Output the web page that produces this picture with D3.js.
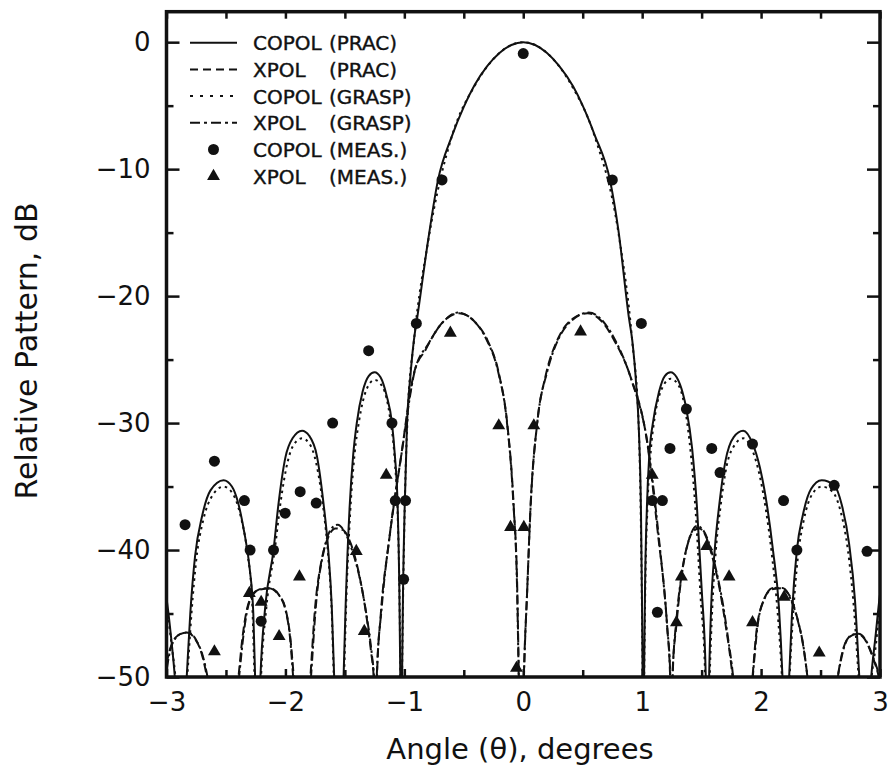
<!DOCTYPE html>
<html>
<head>
<meta charset="utf-8">
<script src="https://cdn.jsdelivr.net/npm/d3@7"></script>
<style>
    body { margin: 0; background: #fff; }
    svg text { font-family: "DejaVu Sans", sans-serif; fill: #111; }
</style>
</head>
<body>
<div id="chart"></div>
<script>
// ---- data: [angle (deg), relative pattern (dB)] ----
// points below -50 dB sit in the nulls and get clipped by the frame

var copolPrac = [
    [-3.05,-41.8],[-3.0,-43.8],[-2.96,-47],[-2.93,-50],[-2.88,-58],
    [-2.83,-50],[-2.80,-45],[-2.76,-40.5],[-2.70,-37.3],[-2.63,-35.3],[-2.52,-34.5],[-2.45,-35.0],[-2.40,-36.2],[-2.35,-38.4],[-2.30,-41.5],[-2.27,-45],[-2.255,-50],[-2.235,-58],
    [-2.21,-50],[-2.17,-44.5],[-2.10,-40],[-2.06,-36.5],[-2.0,-32.7],[-1.94,-31.2],[-1.86,-30.6],[-1.80,-31.0],[-1.735,-32.6],[-1.68,-36.3],[-1.64,-40],[-1.61,-44.5],[-1.59,-50],[-1.55,-58],
    [-1.511,-50],[-1.494,-44.5],[-1.46,-36.6],[-1.43,-32.5],[-1.40,-30.0],[-1.35,-27.5],[-1.30,-26.3],[-1.25,-26.0],[-1.20,-26.4],[-1.15,-27.8],[-1.104,-30],[-1.08,-32.5],[-1.056,-36.6],[-1.042,-43],[-1.034,-50],[-1.027,-58],
    [-1.019,-50],[-1.011,-43.2],[-0.997,-36.6],[-0.977,-30],[-0.95,-26.4],[-0.92,-23.5],[-0.89,-21.6],[-0.80,-15.6],[-0.72,-11.0],[-0.60,-7.4],[-0.50,-5.1],[-0.41,-3.4],[-0.30,-1.85],[-0.20,-0.85],[-0.10,-0.22],[0,0],
    [0.10,-0.22],[0.20,-0.85],[0.30,-1.85],[0.42,-3.5],[0.50,-5.0],[0.60,-7.3],[0.73,-10.9],[0.80,-14.8],[0.89,-21.8],[0.917,-23.5],[0.95,-27.0],[0.972,-30.5],[0.99,-37],[0.998,-43.5],[1.004,-50],[1.01,-58],
    [1.016,-50],[1.024,-43],[1.04,-36.6],[1.06,-32.5],[1.09,-30.0],[1.14,-27.6],[1.19,-26.3],[1.24,-26.0],[1.29,-26.4],[1.34,-27.6],[1.372,-28.9],[1.42,-32.0],[1.46,-36.5],[1.50,-43],[1.535,-50],[1.549,-58],
    [1.563,-50],[1.58,-44.5],[1.61,-40],[1.65,-36.3],[1.70,-33.0],[1.77,-31.1],[1.85,-30.6],[1.928,-31.6],[1.99,-33.5],[2.05,-36.5],[2.10,-40],[2.15,-44.5],[2.18,-50],[2.208,-58],
    [2.236,-50],[2.26,-45],[2.301,-40],[2.35,-37.3],[2.42,-35.2],[2.51,-34.5],[2.615,-34.9],[2.68,-36.5],[2.74,-39.5],[2.79,-44],[2.826,-50],[2.876,-58],
    [2.926,-50],[2.96,-47],[3.0,-43.5],[3.05,-41]
];

var copolGrasp = [
    [-3.05,-42.5],[-3.0,-44.5],[-2.95,-48],[-2.925,-50],[-2.88,-58],
    [-2.825,-50],[-2.79,-45],[-2.75,-40.8],[-2.69,-37.6],[-2.62,-35.8],[-2.52,-35.0],[-2.44,-35.6],[-2.38,-37.2],[-2.32,-40.2],[-2.28,-44],[-2.26,-50],[-2.235,-58],
    [-2.205,-50],[-2.16,-44.5],[-2.09,-40],[-2.04,-36.2],[-1.98,-33],[-1.93,-31.7],[-1.86,-31.2],[-1.80,-31.6],[-1.74,-33.2],[-1.68,-36.8],[-1.64,-40.5],[-1.61,-45],[-1.593,-50],[-1.55,-58],
    [-1.507,-50],[-1.49,-44.5],[-1.455,-37],[-1.42,-32.6],[-1.38,-29.8],[-1.32,-27.4],[-1.25,-26.6],[-1.18,-27.2],[-1.12,-29.6],[-1.08,-33],[-1.055,-37.5],[-1.04,-44],[-1.033,-50],[-1.027,-58],
    [-1.019,-50],[-0.997,-36.8],[-0.97,-29],[-0.92,-23.6],[-0.8,-15.7],[-0.6,-7.4],[-0.4,-3.3],[-0.2,-0.85],[0,0],[0.2,-0.85],[0.4,-3.3],[0.6,-7.4],[0.8,-15.0],[0.917,-23.6],[0.97,-30],[0.997,-43.5],[1.004,-50],[1.01,-58],
    [1.017,-50],[1.026,-43],[1.045,-36.5],[1.07,-32.5],[1.11,-29.3],[1.17,-27.2],[1.24,-26.5],[1.31,-27.1],[1.37,-29.4],[1.41,-32.5],[1.45,-37],[1.49,-43.5],[1.53,-50],[1.549,-58],
    [1.568,-50],[1.59,-44.5],[1.62,-40],[1.66,-36.5],[1.71,-33.4],[1.78,-31.7],[1.85,-31.2],[1.92,-32],[1.98,-33.8],[2.04,-36.8],[2.09,-40.3],[2.14,-45],[2.175,-50],[2.208,-58],
    [2.24,-50],[2.27,-45],[2.31,-40.5],[2.36,-37.6],[2.43,-35.6],[2.51,-35.0],[2.60,-35.4],[2.67,-37],[2.73,-40],[2.78,-44.5],[2.82,-50],[2.876,-58],
    [2.93,-50],[2.965,-47.5],[3.0,-44.3],[3.05,-42]
];

var xpolPrac = [
    [-3.05,-52],[-3.02,-50],[-2.97,-47.8],[-2.90,-46.7],[-2.83,-46.5],[-2.76,-47.0],[-2.70,-48.3],[-2.66,-50],[-2.53,-60],
    [-2.395,-50],[-2.36,-46.8],[-2.31,-44.2],[-2.24,-43.2],[-2.13,-43.0],[-2.05,-43.6],[-2.0,-44.6],[-1.96,-46.8],[-1.93,-50],[-1.86,-60],
    [-1.79,-50],[-1.75,-44.5],[-1.70,-41.0],[-1.64,-39.0],[-1.58,-38.3],[-1.52,-38.4],[-1.45,-39.5],[-1.39,-41.5],[-1.33,-44.5],[-1.28,-48],[-1.258,-50],[-1.245,-56],
    [-1.23,-50],[-1.20,-45.3],[-1.13,-39.4],[-1.03,-32.8],[-0.92,-26.1],[-0.82,-24.2],[-0.70,-22.3],[-0.54,-21.35],[-0.40,-22.1],[-0.30,-23.5],[-0.20,-26.3],[-0.135,-30],[-0.08,-36.6],[-0.05,-43.2],[-0.037,-50],[-0.016,-60],
    [0.005,-50],[0.033,-43.2],[0.061,-36.6],[0.117,-30],[0.19,-26.2],[0.29,-23.4],[0.40,-21.9],[0.54,-21.35],[0.68,-22.2],[0.76,-23.4],[0.90,-26.3],[1.04,-31.4],[1.13,-38.5],[1.21,-46],[1.235,-50],[1.245,-56],
    [1.254,-50],[1.29,-45.7],[1.33,-42.1],[1.38,-39.6],[1.43,-38.5],[1.48,-38.3],[1.53,-38.8],[1.58,-40.2],[1.65,-43],[1.70,-45.8],[1.76,-50],[1.84,-60],
    [1.928,-50],[1.96,-46.5],[2.02,-44.0],[2.09,-43.1],[2.17,-43.0],[2.24,-43.6],[2.30,-45.2],[2.35,-47.3],[2.391,-50],[2.52,-60],
    [2.644,-50],[2.69,-47.8],[2.75,-46.8],[2.81,-46.6],[2.87,-47.0],[2.93,-48.2],[2.99,-50],[3.05,-53]
];

var xpolGrasp = [
    [-3.05,-52],[-3.01,-50],[-2.96,-47.6],[-2.88,-46.6],[-2.82,-46.5],[-2.75,-47.1],[-2.69,-48.5],[-2.655,-50],[-2.53,-60],
    [-2.39,-50],[-2.35,-46.5],[-2.30,-44.0],[-2.22,-43.1],[-2.14,-43.0],[-2.06,-43.5],[-2.0,-44.7],[-1.96,-47],[-1.935,-50],[-1.86,-60],
    [-1.785,-50],[-1.74,-44],[-1.68,-40.2],[-1.62,-38.4],[-1.56,-38.0],[-1.50,-38.6],[-1.44,-40.0],[-1.38,-42],[-1.32,-45],[-1.27,-48.5],[-1.255,-50],[-1.245,-56],
    [-1.232,-50],[-1.19,-44.5],[-1.12,-38.6],[-1.02,-32.2],[-0.91,-25.8],[-0.80,-23.8],[-0.68,-22.1],[-0.55,-21.3],[-0.41,-22.0],[-0.31,-23.4],[-0.21,-26.0],[-0.14,-29.7],[-0.085,-36],[-0.052,-43],[-0.038,-50],[-0.016,-60],
    [0.006,-50],[0.034,-43],[0.064,-36.2],[0.12,-29.8],[0.20,-26],[0.30,-23.3],[0.41,-21.9],[0.55,-21.3],[0.69,-22.2],[0.78,-23.6],[0.91,-26.6],[1.05,-31.9],[1.14,-39],[1.21,-46],[1.237,-50],[1.245,-56],
    [1.256,-50],[1.29,-45.3],[1.34,-41.5],[1.40,-39.0],[1.46,-38.1],[1.51,-38.4],[1.56,-39.4],[1.62,-41.5],[1.68,-44.3],[1.72,-46.8],[1.765,-50],[1.84,-60],
    [1.93,-50],[1.97,-46],[2.03,-43.8],[2.10,-43.0],[2.18,-43.0],[2.25,-43.9],[2.31,-45.6],[2.36,-47.8],[2.39,-50],[2.52,-60],
    [2.645,-50],[2.70,-47.6],[2.76,-46.7],[2.82,-46.6],[2.88,-47.1],[2.94,-48.4],[2.995,-50],[3.05,-53]
];

var copolMeas = [
    [0.0,-0.9],[-0.683,-10.85],[0.749,-10.85],[-0.899,-22.15],[0.993,-22.15],[-1.30,-24.3],
    [-1.603,-30.0],[-1.104,-30.0],[-2.597,-33.0],[-2.345,-36.1],[-1.876,-35.4],[-1.741,-36.3],
    [-2.002,-37.1],[-2.844,-38.0],[-2.297,-40.0],[-2.10,-40.0],[-2.204,-45.6],[-1.076,-36.1],
    [-0.99,-36.1],[-1.006,-42.3],[1.372,-28.9],[1.234,-32.0],[1.585,-32.0],[1.928,-31.65],
    [1.655,-33.9],[1.086,-36.1],[1.170,-36.1],[2.189,-36.1],[2.615,-34.9],[2.301,-40.0],
    [2.891,-40.1],[1.128,-44.9]
];

var xpolMeas = [
    [-0.613,-22.9],[0.482,-22.8],[-0.206,-30.2],[0.089,-30.2],[-0.107,-38.2],[0.005,-38.2],
    [-0.057,-49.3],[-1.152,-34.1],[1.085,-34.1],[-2.303,-43.4],[-2.204,-44.1],[-1.882,-42.1],
    [-1.404,-40.1],[-2.053,-46.8],[-2.597,-48.0],[-1.337,-46.4],[1.330,-42.1],[1.731,-42.1],
    [1.288,-45.7],[1.928,-45.7],[2.489,-48.1],[1.543,-39.7],[2.194,-43.7]
];

var xMajorTicks = [-3, -2, -1, 0, 1, 2, 3];
var xMinorTicks = [-2.5, -1.5, -0.5, 0.5, 1.5, 2.5];
var yMajorTicks = [-50, -40, -30, -20, -10, 0];
var yMinorTicks = [-45, -35, -25, -15, -5];

var legendNames = ["COPOL", "XPOL", "COPOL", "XPOL", "COPOL", "XPOL"];
var legendSources = ["(PRAC)", "(PRAC)", "(GRASP)", "(GRASP)", "(MEAS.)", "(MEAS.)"];


function drawChart() {
    let div_id = "#chart";
    let win_width = 891;
    let win_height = 771;

    // frame of the plot
    let margin = {top: 11.7, right: 11, bottom: 94, left: 166.5};
    let width = win_width - margin.left - margin.right;
    let height = win_height - margin.top - margin.bottom;
    let ink = "#111";

    let svg = d3.select(div_id)
        .append("svg")
        .attr("width", win_width)
        .attr("height", win_height);

    let g = svg.append("g")
        .attr("transform", "translate(" + margin.left + "," + margin.top + ")");

    let x = d3.scaleLinear().domain([-3, 3]).range([0, width]);
    let y = d3.scaleLinear().domain([-50, 2.4]).range([height, 0]);
    let fmt = d3.format("d");

    svg.append("defs").append("clipPath").attr("id", "plotclip")
        .append("rect").attr("width", width).attr("height", height);

    // axes, ticks pointing inwards
    let styleAxis = function(sel) {
        sel.select(".domain").remove();
        sel.selectAll("line").attr("stroke", ink).attr("stroke-width", 2.5);
        sel.selectAll("text")
            .attr("font-family", "DejaVu Sans, sans-serif")
            .attr("font-size", 26)
            .attr("fill", ink);
    };

    g.append("g").attr("transform", "translate(0," + height + ")")
        .call(d3.axisBottom(x).tickValues(xMajorTicks).tickFormat(fmt).tickSizeInner(-8).tickSizeOuter(0).tickPadding(16))
        .call(styleAxis);
    g.append("g").attr("transform", "translate(0," + height + ")")
        .call(d3.axisBottom(x).tickValues(xMinorTicks).tickFormat("").tickSizeInner(-7).tickSizeOuter(0))
        .call(styleAxis);
    g.append("g")
        .call(d3.axisTop(x).tickValues(xMajorTicks.concat(xMinorTicks)).tickFormat("").tickSizeInner(-7).tickSizeOuter(0))
        .call(styleAxis);

    g.append("g")
        .call(d3.axisLeft(y).tickValues(yMajorTicks).tickFormat(fmt).tickSizeInner(-13).tickSizeOuter(0).tickPadding(16))
        .call(styleAxis);
    g.append("g")
        .call(d3.axisLeft(y).tickValues(yMinorTicks).tickFormat("").tickSizeInner(-7).tickSizeOuter(0))
        .call(styleAxis);
    g.append("g").attr("transform", "translate(" + width + ",0)")
        .call(d3.axisRight(y).tickValues(yMajorTicks).tickFormat("").tickSizeInner(-13).tickSizeOuter(0))
        .call(styleAxis);
    g.append("g").attr("transform", "translate(" + width + ",0)")
        .call(d3.axisRight(y).tickValues(yMinorTicks).tickFormat("").tickSizeInner(-7).tickSizeOuter(0))
        .call(styleAxis);

    // curves
    let line = d3.line()
        .x(function(d) { return x(d[0]); })
        .y(function(d) { return y(d[1]); })
        .curve(d3.curveMonotoneX);

    let series = [
        {data: copolPrac, dash: null},
        {data: xpolPrac, dash: "9,4"},
        {data: copolGrasp, dash: "2.5,4"},
        {data: xpolGrasp, dash: "9,3,2.5,3"}
    ];

    let curves = g.append("g").attr("clip-path", "url(#plotclip)");
    curves.selectAll("path")
        .data(series)
        .join("path")
        .attr("fill", "none")
        .attr("stroke", ink)
        .attr("stroke-width", 2)
        .attr("stroke-dasharray", function(d) { return d.dash; })
        .attr("d", function(d) { return line(d.data); });

    // measured points
    g.append("g")
        .selectAll("circle")
        .data(copolMeas)
        .join("circle")
        .attr("cx", function(d) { return x(d[0]); })
        .attr("cy", function(d) { return y(d[1]); })
        .attr("r", 5.5)
        .attr("fill", ink);

    let tri = d3.symbol(d3.symbolTriangle, 72);
    g.append("g")
        .selectAll("path")
        .data(xpolMeas)
        .join("path")
        .attr("transform", function(d) { return "translate(" + x(d[0]) + "," + y(d[1]) + ")"; })
        .attr("d", tri)
        .attr("fill", ink);

    // frame
    g.append("rect")
        .attr("width", width)
        .attr("height", height)
        .attr("fill", "none")
        .attr("stroke", ink)
        .attr("stroke-width", 3.5);

    // axis titles
    svg.append("text")
        .attr("x", 520)
        .attr("y", 759)
        .attr("text-anchor", "middle")
        .attr("font-size", 29)
        .text("Angle (θ), degrees");

    svg.append("text")
        .attr("transform", "translate(36.5,351) rotate(-90)")
        .attr("text-anchor", "middle")
        .attr("font-size", 30)
        .text("Relative Pattern, dB");

    // legend
    let legend = svg.append("g");
    let rowY = function(i) { return 42.7 + i * 26.7; };
    let sampleDash = [null, "8,5", "3,7", "10,4,3,4"];

    legend.selectAll("line")
        .data(sampleDash)
        .join("line")
        .attr("x1", 190)
        .attr("x2", 237)
        .attr("y1", function(d, i) { return rowY(i); })
        .attr("y2", function(d, i) { return rowY(i); })
        .attr("stroke", ink)
        .attr("stroke-width", 2)
        .attr("stroke-dasharray", function(d) { return d; });

    legend.append("circle")
        .attr("cx", 213.5)
        .attr("cy", rowY(4))
        .attr("r", 5.5)
        .attr("fill", ink);
    legend.append("path")
        .attr("transform", "translate(213.5," + rowY(5) + ")")
        .attr("d", tri)
        .attr("fill", ink);

    legend.selectAll(".lname")
        .data(legendNames)
        .join("text")
        .attr("class", "lname")
        .attr("x", 253)
        .attr("y", function(d, i) { return rowY(i) + 7.5; })
        .attr("font-size", 20)
        .attr("stroke", ink)
        .attr("stroke-width", 0.4)
        .text(function(d) { return d; });

    legend.selectAll(".lsrc")
        .data(legendSources)
        .join("text")
        .attr("class", "lsrc")
        .attr("x", 329)
        .attr("y", function(d, i) { return rowY(i) + 7.5; })
        .attr("font-size", 20)
        .attr("stroke", ink)
        .attr("stroke-width", 0.4)
        .text(function(d) { return d; });
}

drawChart();
</script>
</body>
</html>
